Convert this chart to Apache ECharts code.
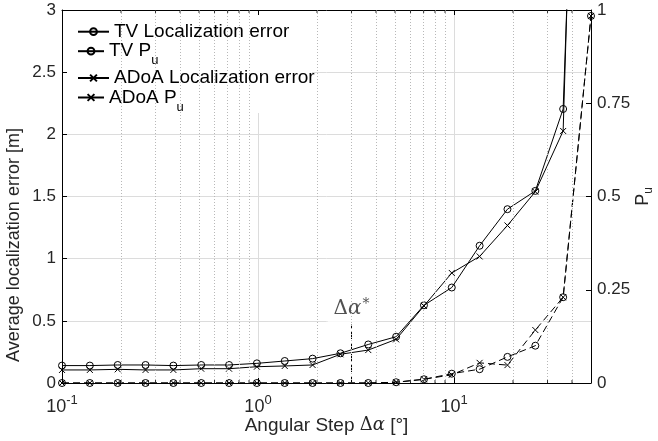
<!DOCTYPE html>
<html><head><meta charset="utf-8">
<script src="https://cdn.jsdelivr.net/npm/echarts@6/dist/echarts.min.js"></script>
<style>html,body{margin:0;padding:0;background:#fff}#c{width:658px;height:441px}</style>
</head><body><div id="c"></div>
<script>
// ---- data ----
const angularStep = [0.1, 0.1387, 0.1924, 0.2668, 0.3700, 0.5132, 0.7117, 0.9871, 1.369, 1.899,
                     2.634, 3.653, 5.066, 7.026, 9.744, 13.51, 18.74, 26.00, 36.05, 50];
const tvLocErr   = [0.14, 0.14, 0.145, 0.145, 0.14, 0.145, 0.145, 0.158, 0.177, 0.196,
                    0.239, 0.31, 0.372, 0.625, 0.768, 1.104, 1.398, 1.545, 2.204, 8.5];
const adoaLocErr = [0.105, 0.105, 0.11, 0.105, 0.105, 0.115, 0.115, 0.131, 0.137, 0.145,
                    0.231, 0.265, 0.351, 0.62, 0.885, 1.018, 1.267, 1.539, 2.027, 9.5];
const tvPu       = [0, 0, 0, 0, 0, 0, 0, 0, 0, 0,
                    0, 0, 0.002, 0.01, 0.025, 0.037, 0.07, 0.1, 0.23, 0.984];
const adoaPu     = [0, 0, 0, 0, 0, 0, 0, 0, 0, 0,
                    0, 0, 0.002, 0.01, 0.022, 0.054, 0.048, 0.142, 0.23, 0.984];
const seriesNames = ['TV Localization error', 'TV P_u', 'ADoA Localization error', 'ADoA P_u'];
const minorTickValues = [0.2,0.3,0.4,0.5,0.6,0.7,0.8,0.9,2,3,4,5,6,7,8,9,20,30,40];
const leftTicks = [0, 0.5, 1, 1.5, 2, 2.5, 3];
const rightTicks = [0, 0.25, 0.5, 0.75, 1];
const deltaStar = 3;
const deltaStarTop = 0.47;

// ---- chart ----
const SANS = 'Liberation Sans';
const SERIF = 'DejaVu Serif';
const TXT = '#262626';
const pairs = (ys) => angularStep.map((x, i) => [x, ys[i]]);
const crossPath = 'path://M0,0L10,10M10,0L0,10';

const chart = echarts.init(document.getElementById('c'), null, {renderer: 'canvas'});

function legendFor(name, left, top, width) {
  return {
    show: true, data: [name], orient: 'vertical', left: left, top: top, padding: 0,
    itemWidth: width, itemHeight: 8.5, itemGap: 0, z: 10, selectedMode: false,
    lineStyle: {type: 'solid'},
    textStyle: {
      fontFamily: SANS, fontSize: 19, color: '#000', lineHeight: 20,
      rich: {
        a: {fontFamily: SANS, fontSize: 19, color: '#000', lineHeight: 20, padding: [8, 0, 8, 0]},
        b: {fontFamily: SANS, fontSize: 13, color: '#000', lineHeight: 14, padding: [19, 0, 0, 0]}
      }
    },
    formatter: function (n) {
      if (n.indexOf('_u') >= 0) return '{a|' + n.replace('_u', '') + '}{b|u}';
      return n;
    }
  };
}

const axisLineStyle = {show: true, onZero: false, lineStyle: {color: '#000', width: 1}};

const option = {
  animation: false,
  backgroundColor: '#fff',
  grid: {left: 62, right: 67, top: 10, bottom: 58, containLabel: false, outerBoundsMode: 'none'},
  legend: [
    legendFor(seriesNames[0], 77, 21.7, 31),
    legendFor(seriesNames[1], 77, 33.7, 26),
    legendFor(seriesNames[2], 77, 68, 31),
    legendFor(seriesNames[3], 77, 80, 26)
  ],
  graphic: [{
    type: 'rect', z: 3, silent: true,
    shape: {x: 67, y: 15, width: 245, height: 98},
    style: {fill: '#fff'}
  }],
  xAxis: [{
    type: 'log', logBase: 10, min: 0.1, max: 50, position: 'bottom',
    axisLine: axisLineStyle,
    axisTick: {show: true, inside: true, length: 5, lineStyle: {color: '#000'}},
    splitLine: {show: true, lineStyle: {color: '#dcdcdc', width: 1}},
    axisLabel: {
      margin: 15, color: TXT, fontFamily: SANS,
      formatter: function (v) {
        const l = Math.log10(v), e = Math.round(l);
        if (Math.abs(l - e) > 1e-6) return '';
        return '{b|10}{s|' + e + '}';
      },
      rich: {
        b: {fontFamily: SANS, fontSize: 18, color: TXT, lineHeight: 18},
        s: {fontFamily: SANS, fontSize: 13, color: TXT, lineHeight: 13, padding: [0, 0, 13, 0]}
      }
    },
    name: '{n|Angular Step }{d|Δ}{g|α}{n| [°]}',
    nameLocation: 'middle', nameGap: 33, nameMoveOverlap: false,
    nameTextStyle: {
      color: TXT,
      rich: {
        n: {fontFamily: SANS, fontSize: 19, color: TXT},
        d: {fontFamily: SERIF, fontSize: 18, color: TXT},
        g: {fontFamily: SERIF, fontSize: 18, fontStyle: 'italic', color: TXT}
      }
    }
  }, {
    type: 'log', logBase: 10, min: 0.1, max: 50, position: 'top',
    axisLine: axisLineStyle,
    axisTick: {show: true, inside: true, length: 5, lineStyle: {color: '#000'}},
    axisLabel: {show: false}, splitLine: {show: false}
  }],
  yAxis: [{
    type: 'value', min: leftTicks[0], max: leftTicks[leftTicks.length - 1], interval: 0.5,
    position: 'left',
    axisLine: axisLineStyle,
    axisTick: {show: true, inside: true, length: 5, lineStyle: {color: '#000'}},
    splitLine: {show: true, lineStyle: {color: '#dcdcdc', width: 1}},
    axisLabel: {margin: 6, fontFamily: SANS, fontSize: 17, color: TXT},
    name: 'Average localization error [m]', nameLocation: 'middle', nameGap: 39, nameMoveOverlap: false,
    nameTextStyle: {fontFamily: SANS, fontSize: 18, color: TXT, padding: [0, 97, 0, 0]}
  }, {
    type: 'value', min: rightTicks[0], max: rightTicks[rightTicks.length - 1], interval: 0.25,
    position: 'right',
    axisLine: axisLineStyle,
    axisTick: {show: true, inside: true, length: 5, lineStyle: {color: '#000'}},
    splitLine: {show: false},
    axisLabel: {margin: 6, fontFamily: SANS, fontSize: 17, color: TXT},
    name: '{p|P}{u|u}', nameLocation: 'middle', nameGap: 42, nameRotate: 90, nameMoveOverlap: false,
    nameTextStyle: {
      rich: {
        p: {fontFamily: SANS, fontSize: 18, color: TXT, lineHeight: 20},
        u: {fontFamily: SANS, fontSize: 12, color: TXT, lineHeight: 12, padding: [12, 0, 0, 0]}
      }
    }
  }],
  series: [
    { // minor dotted grid lines
      type: 'line', name: 'minorGrid', data: [], xAxisIndex: 0, yAxisIndex: 0, z: 1, silent: true,
      markLine: {
        silent: true, symbol: ['none', 'none'], label: {show: false}, animation: false,
        lineStyle: {type: [1, 2], color: '#b8b8b8', width: 1},
        data: minorTickValues.map(v => ({xAxis: v}))
      }
    },
    {
      type: 'line', name: seriesNames[0], data: pairs(tvLocErr), yAxisIndex: 0, z: 2,
      symbol: 'circle', symbolSize: 7, showSymbol: true,
      itemStyle: {color: 'none', borderColor: '#000', borderWidth: 1},
      lineStyle: {color: '#000', width: 1}
    },
    {
      type: 'line', name: seriesNames[1], data: pairs(tvPu), yAxisIndex: 1, z: 2,
      symbol: 'circle', symbolSize: 7,
      itemStyle: {color: 'none', borderColor: '#000', borderWidth: 1},
      lineStyle: {color: '#000', width: 1, type: [7, 4]}
    },
    {
      type: 'line', name: seriesNames[2], data: pairs(adoaLocErr), yAxisIndex: 0, z: 3,
      symbol: crossPath, symbolSize: 6,
      itemStyle: {color: 'none', borderColor: '#000', borderWidth: 1},
      lineStyle: {color: '#000', width: 1}
    },
    {
      type: 'line', name: seriesNames[3], data: pairs(adoaPu), yAxisIndex: 1, z: 3,
      symbol: crossPath, symbolSize: 6,
      itemStyle: {color: 'none', borderColor: '#000', borderWidth: 1},
      lineStyle: {color: '#000', width: 1, type: [7, 4]}
    },
    { // delta alpha* marker line
      type: 'line', name: 'deltaStar', data: [[deltaStar, 0], [deltaStar, deltaStarTop]],
      yAxisIndex: 0, symbol: 'none', z: 2, silent: true,
      lineStyle: {color: '#000', width: 1, type: [7, 4]}
    },
    {
      type: 'scatter', name: 'deltaStarLabel', data: [[deltaStar, deltaStarTop]], yAxisIndex: 0,
      symbolSize: 1, itemStyle: {color: 'rgba(0,0,0,0)'}, z: 4, silent: true, clip: false,
      label: {
        show: true, position: 'top', distance: 0, backgroundColor: '#fff', padding: [2, 6, 4, 6],
        formatter: '{d|Δ}{g|α}{s|*}',
        rich: {
          d: {fontFamily: SERIF, fontSize: 20, color: TXT, lineHeight: 22},
          g: {fontFamily: SERIF, fontSize: 20, fontStyle: 'italic', color: TXT, lineHeight: 22},
          s: {fontFamily: SERIF, fontSize: 14, color: TXT, lineHeight: 14, padding: [0, 0, 10, 1]}
        }
      }
    },
    { // bottom minor ticks
      type: 'scatter', name: 'minorTicksBottom', data: minorTickValues.map(v => [v, 0]), yAxisIndex: 0,
      symbol: 'rect', symbolSize: [1, 3], symbolOffset: [0, -1.5], clip: false, silent: true, z: 5,
      itemStyle: {color: '#000'}
    },
    { // top minor ticks
      type: 'scatter', name: 'minorTicksTop', data: minorTickValues.map(v => [v, 3]), yAxisIndex: 0,
      symbol: 'rect', symbolSize: [1, 3], symbolOffset: [0, 1.5], clip: false, silent: true, z: 5,
      itemStyle: {color: '#000'}
    }
  ]
};
chart.setOption(option);
</script></body></html>
